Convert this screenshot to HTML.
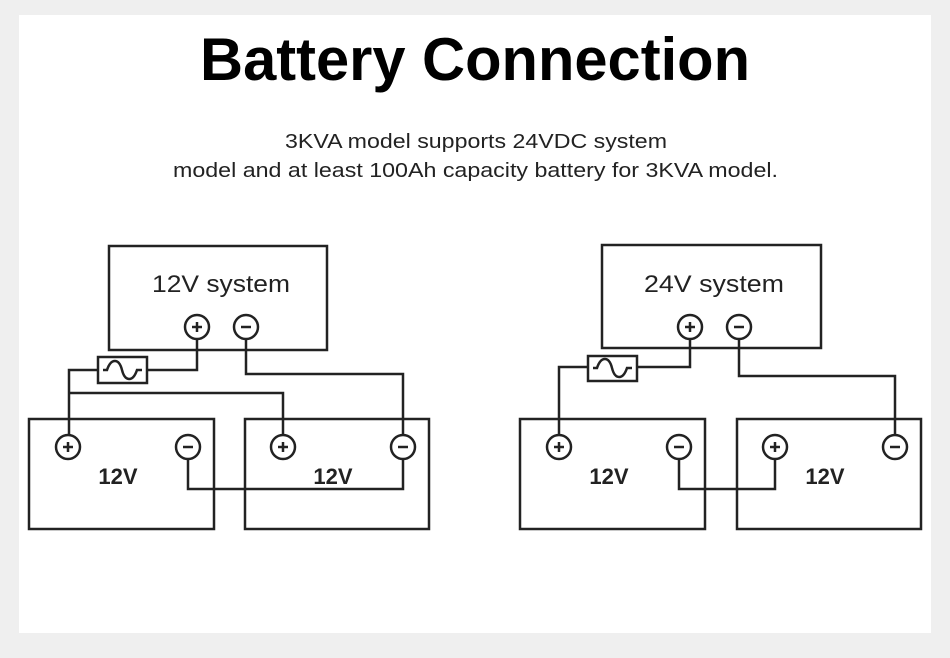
<!DOCTYPE html>
<html><head><meta charset="utf-8"><style>
html,body{margin:0;padding:0;background:#efefef;}
svg{display:block;}
text{font-family:"Liberation Sans",Arial,sans-serif;}
</style></head><body>
<svg width="950" height="658" viewBox="0 0 950 658" xmlns="http://www.w3.org/2000/svg">
<rect x="0" y="0" width="950" height="658" fill="#efefef"/>
<rect x="19" y="15" width="912" height="618" fill="#fff"/>
<text x="475" y="80" text-anchor="middle" font-size="60" font-weight="bold" fill="#000" textLength="550" lengthAdjust="spacingAndGlyphs">Battery Connection</text>
<text x="476" y="148" text-anchor="middle" font-size="20" fill="#222" textLength="382" lengthAdjust="spacingAndGlyphs">3KVA model supports 24VDC system</text>
<text x="475.5" y="177" text-anchor="middle" font-size="20" fill="#222" textLength="605" lengthAdjust="spacingAndGlyphs">model and at least 100Ah capacity battery for 3KVA model.</text>

<g fill="none" stroke="#222" stroke-width="2.5">
<rect x="109" y="246" width="218" height="104"/>
<rect x="29" y="419" width="185" height="110"/>
<rect x="245" y="419" width="184" height="110"/>
<rect x="98" y="357" width="49" height="26"/>
<path d="M103 370 H107 C111 358,119 358,122 370 C125 382,133 382,137 370 H142"/>
<polyline points="197,339 197,370 147,370"/>
<polyline points="98,370 69,370 69,435"/>
<polyline points="69,393 283,393 283,435"/>
<polyline points="246,339 246,374 403,374 403,435"/>
<polyline points="188,459 188,489 403,489 403,459"/>
<rect x="602" y="245" width="219" height="103"/>
<rect x="520" y="419" width="185" height="110"/>
<rect x="737" y="419" width="184" height="110"/>
<rect x="588" y="356" width="49" height="25"/>
<path d="M593 368 H597 C601 356,609 356,612 368 C615 380,623 380,627 368 H632"/>
<polyline points="690,339 690,367 637,367"/>
<polyline points="588,367 559,367 559,435"/>
<polyline points="739,339 739,376 895,376 895,435"/>
<polyline points="679,459 679,489 775,489 775,459"/>
</g>
<g fill="#fff" stroke="#222" stroke-width="2.5">
<circle cx="197" cy="327" r="12"/><circle cx="246" cy="327" r="12"/>
<circle cx="68" cy="447" r="12"/><circle cx="188" cy="447" r="12"/>
<circle cx="283" cy="447" r="12"/><circle cx="403" cy="447" r="12"/>
<circle cx="690" cy="327" r="12"/><circle cx="739" cy="327" r="12"/>
<circle cx="559" cy="447" r="12"/><circle cx="679" cy="447" r="12"/>
<circle cx="775" cy="447" r="12"/><circle cx="895" cy="447" r="12"/>
</g>
<g stroke="#222" stroke-width="2.5">
<path d="M192 327h10M197 322v10 M241 327h10"/>
<path d="M63 447h10M68 442v10 M183 447h10"/>
<path d="M278 447h10M283 442v10 M398 447h10"/>
<path d="M685 327h10M690 322v10 M734 327h10"/>
<path d="M554 447h10M559 442v10 M674 447h10"/>
<path d="M770 447h10M775 442v10 M890 447h10"/>
</g>
<g fill="#222">
<text x="221" y="292" text-anchor="middle" font-size="24" textLength="138" lengthAdjust="spacingAndGlyphs">12V  system</text>
<text x="714" y="292" text-anchor="middle" font-size="24" textLength="140" lengthAdjust="spacingAndGlyphs">24V  system</text>
<text x="118" y="484" text-anchor="middle" font-size="22" font-weight="bold">12V</text>
<text x="333" y="484" text-anchor="middle" font-size="22" font-weight="bold">12V</text>
<text x="609" y="484" text-anchor="middle" font-size="22" font-weight="bold">12V</text>
<text x="825" y="484" text-anchor="middle" font-size="22" font-weight="bold">12V</text>
</g>
</svg>
</body></html>
